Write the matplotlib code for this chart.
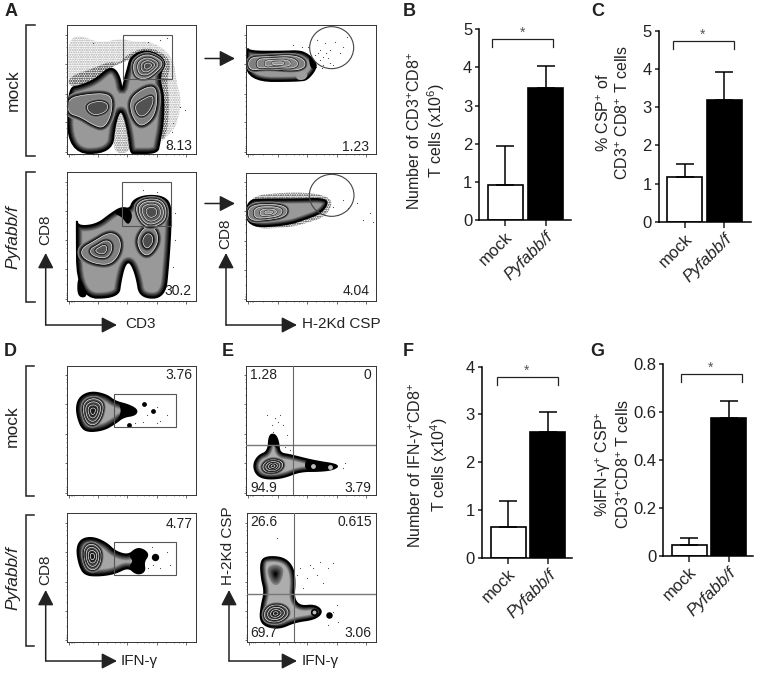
"""
Flow plots and bar charts, CD8 T cell response mock vs Pyfabb/f
"""
import numpy as np
import matplotlib
matplotlib.use("Agg")
import matplotlib.pyplot as plt
from matplotlib.patches import Polygon, Rectangle, Ellipse

plt.rcParams['font.family'] = ['Liberation Sans', 'DejaVu Sans']
plt.rcParams['mathtext.fontset'] = 'custom'
plt.rcParams['mathtext.rm'] = 'Liberation Sans'
plt.rcParams['mathtext.default'] = 'regular'

W, H = 757, 673
INK = '#222222'

# Bar data
groups = ['mock', 'Pyfabb/f']
b_vals = [0.93, 3.45]
b_errs = [1.01, 0.59]
c_vals = [1.17, 3.20]
c_errs = [0.35, 0.73]
f_vals = [0.64, 2.63]
f_errs = [0.54, 0.43]
g_vals = [0.045, 0.575]
g_errs = [0.027, 0.070]
b_ticks = [0, 1, 2, 3, 4, 5]
c_ticks = [0, 1, 2, 3, 4, 5]
f_ticks = [0, 1, 2, 3, 4]
g_ticks = [0, 0.2, 0.4, 0.6, 0.8]
g_ticklabels = ['0', '0.2', '0.4', '0.6', '0.8']

# Flow populations, traced on a 3x scale of the picture
a1_base = [(204, 265), (240, 258), (285, 240), (325, 205), (345, 208), (360, 235), (366, 275), (375, 235),
           (385, 200), (390, 178), (412, 158), (445, 153), (478, 166), (497, 190), (482, 215), (480, 245),
           (491, 290), (489, 370), (478, 430), (472, 459), (405, 459), (392, 459), (385, 400), (372, 345),
           (360, 330), (345, 370), (335, 459), (204, 459)]
a1_left = [(204, 295), (260, 283), (320, 280), (338, 300), (332, 350), (310, 385), (280, 375), (240, 350), (204, 340)]
a1_left_core = [(262, 312), (300, 302), (325, 312), (320, 335), (285, 347), (262, 332)]
a1_right = [(392, 295), (430, 265), (465, 258), (472, 300), (462, 350), (430, 378), (410, 370), (392, 335)]
a1_right_core = [(402, 315), (435, 295), (458, 285), (460, 310), (440, 345), (415, 350)]
a1_top = [(398, 190), (420, 168), (450, 163), (482, 180), (488, 195), (470, 215), (440, 238), (405, 232)]
a2_base = [(740, 142), (750, 155), (850, 155), (900, 153), (925, 165), (945, 185), (948, 205), (925, 235),
           (905, 243), (740, 243)]
a2_core = [(746, 172), (800, 170), (880, 165), (915, 180), (915, 203), (880, 212), (800, 205), (746, 212)]
a2_wedge = [(925, 168), (948, 185), (950, 205), (932, 208)]
a2_light = [(888, 222), (905, 212), (925, 222), (915, 240), (890, 240)]
a3_base = [(230, 650), (232, 680), (290, 675), (335, 640), (365, 622), (390, 628), (400, 600), (440, 586),
           (490, 590), (513, 615), (511, 700), (505, 790), (495, 893), (420, 893), (410, 830), (392, 785),
           (375, 790), (362, 840), (355, 893), (232, 893)]
a3_left = [(245, 745), (280, 725), (330, 695), (362, 715), (360, 760), (330, 795), (280, 790), (245, 770)]
a3_right = [(410, 715), (440, 675), (470, 690), (475, 730), (445, 770), (420, 755)]
a3_top = [(405, 620), (430, 597), (480, 597), (500, 625), (495, 665), (450, 685), (420, 665)]
a3_dark1 = [(340, 640), (365, 622), (390, 628), (398, 650), (385, 678), (365, 650)]
a3_dark2 = [(232, 835), (245, 840), (265, 892), (232, 892)]
a4_base = [(740, 600), (800, 598), (900, 598), (970, 596), (984, 610), (960, 640), (920, 655), (860, 675), (740, 682)]
a4_core = [(745, 615), (830, 612), (865, 625), (855, 650), (800, 660), (745, 662)]
d1_base = [(228, 220), (240, 185), (275, 170), (320, 180), (345, 200), (385, 210), (412, 225), (405, 240),
           (370, 245), (345, 265), (310, 285), (260, 290), (240, 270)]
d1_core = [(248, 225), (255, 198), (285, 188), (312, 205), (305, 245), (285, 272), (260, 265)]
d1_tail = [(355, 202), (385, 210), (412, 225), (405, 240), (370, 245), (345, 265), (365, 232)]
d2_base = [(230, 640), (245, 612), (280, 607), (320, 625), (345, 650), (385, 662), (410, 640), (432, 645),
           (445, 660), (430, 680), (435, 710), (410, 718), (385, 695), (345, 715), (300, 722), (255, 720), (238, 690)]
d2_core = [(250, 650), (262, 628), (285, 628), (305, 650), (300, 690), (280, 708), (258, 695)]
d2_tail = [(385, 662), (410, 640), (432, 645), (445, 660), (430, 680), (435, 710), (410, 718), (385, 695), (400, 678)]
e1_base = [(760, 390), (775, 362), (805, 350), (808, 300), (825, 298), (835, 320), (838, 355), (870, 360),
           (940, 378), (1018, 390), (1000, 403), (960, 408), (900, 408), (850, 428), (800, 432), (770, 420)]
e1_core = [(785, 392), (810, 372), (845, 378), (850, 395), (830, 412), (795, 412)]
e1_spike = [(803, 345), (808, 300), (825, 298), (835, 320), (838, 350), (820, 328)]
e1_tail = [(915, 374), (940, 378), (1018, 390), (1000, 403), (960, 408), (915, 408)]
e2_base = [(782, 680), (800, 665), (850, 668), (878, 695), (885, 740), (880, 790), (900, 815), (945, 810),
           (968, 830), (945, 852), (885, 860), (840, 880), (800, 875), (780, 855), (785, 810), (795, 770), (785, 730)]
e2_core = [(790, 835), (810, 810), (850, 810), (870, 835), (840, 862), (800, 860)]
e2_top = [(797, 700), (825, 685), (855, 700), (840, 750), (815, 750)]

# Stippled events around the populations
a1_sparse = [(205, 205), (205, 120), (240, 105), (300, 130), (360, 115), (400, 125), (460, 125), (520, 170),
             (530, 250), (545, 300), (530, 380), (500, 410), (480, 430), (489, 370), (491, 290), (482, 215),
             (445, 153), (390, 178), (325, 205), (285, 240), (207, 265)]
a1_dense = [(205, 230), (280, 205), (325, 185), (360, 190), (385, 160), (445, 140), (500, 165), (512, 195),
            (500, 240), (508, 300), (502, 400), (484, 425), (489, 370), (491, 290), (482, 215),
            (445, 153), (390, 178), (325, 205), (285, 240), (207, 265)]
a1_gap = [(337, 459), (347, 372), (360, 333), (372, 348), (385, 402), (392, 459)]
a4_stipple = [(742, 590), (840, 578), (930, 578), (985, 590), (998, 612), (975, 650), (925, 668), (860, 684),
              (742, 686)]
a1_events = [(480, 120), (445, 125), (500, 115), (540, 320), (555, 330), (520, 370), (515, 395), (505, 440), (280, 130)]
a2_events = [(960, 150), (975, 130), (990, 150), (1005, 125), (1020, 160), (985, 175), (950, 120), (960, 180),
             (1000, 195), (1040, 110), (1030, 140), (945, 165), (970, 195), (925, 140), (955, 160), (968, 172),
             (978, 160), (990, 190), (948, 200), (965, 205), (880, 135), (905, 140)]
a3_events = [(430, 570), (470, 575), (525, 640), (525, 720), (520, 800), (515, 860)]
a4_events = [(1000, 620), (1030, 600), (1070, 610), (1110, 640), (1120, 665), (1015, 645), (1045, 625), (1090, 660)]
d1_events = [(440, 240), (470, 215), (480, 258), (405, 265), (430, 262), (500, 240), (470, 265)]
d2_events = [(455, 635), (480, 700), (510, 690), (460, 690), (500, 650), (445, 700)]
e1_events = [(825, 250), (815, 270), (850, 270), (800, 240), (840, 240), (820, 290), (1035, 385), (1030, 400),
             (860, 300), (835, 260), (855, 335), (870, 345)]
e2_events = [(900, 700), (930, 690), (960, 680), (1000, 685), (920, 730), (950, 720), (910, 760), (985, 700),
             (1010, 810), (1000, 830), (1015, 860), (985, 870), (940, 700), (890, 720), (830, 610), (970, 745)]

# Flow dots drawn solid, and the pale holes in the tails
d1_blobs = [(432, 208), (460, 229), (386, 270)]
d2_blobs = [(466, 665)]
e1_holes = [(940, 393), (990, 397)]
e2_blobs = [(986, 840)]
e2_holes = [(942, 830)]

# Log tick positions of the flow axes, fraction of the axis
tick_major = [0.015, 0.245, 0.47, 0.70, 0.925]
tick_minor = [0.03, 0.045, 0.06, 0.13, 0.20, 0.31, 0.37, 0.41, 0.44, 0.54, 0.60, 0.64, 0.67, 0.77, 0.83, 0.87, 0.90]


def px_axes(l, t, r, b, **kw):
    return fig.add_axes([l / W, 1 - b / H, (r - l) / W, (b - t) / H], **kw)


def smooth(pts, n=3):
    p = np.array(pts, float)
    for _ in range(n):
        q = np.roll(p, -1, axis=0)
        p = np.column_stack([0.75 * p + 0.25 * q, 0.25 * p + 0.75 * q]).reshape(-1, 2)
    return p


def strokes(ax, p, band, light, clip):
    for i in range(8):
        grey = light * (1 - i / 7) ** 1.2
        s = Polygon(p, closed=True, fill=False, ec=str(grey), lw=2 * band * (1 - i / 8))
        ax.add_patch(s)
        s.set_clip_path(clip)


def base_shape(ax, pts, light=0.6, band=4.5, outer=1.4):
    p = smooth(pts)
    patch = Polygon(p, closed=True, fc=str(light), ec='none')
    ax.add_patch(patch)
    strokes(ax, p, band, light, patch)
    ax.add_patch(Polygon(p, closed=True, fill=False, ec='black', lw=outer))
    return patch


def rings(ax, clip, pts, scales, light=0.5, band=3.0, core=0.3):
    # dark halo outside each contour, a white line on it, darker towards the middle
    p = np.array(pts, float)
    c = p.mean(axis=0)
    n = len(scales)
    for k, s in enumerate(scales):
        q = smooth(c + s * (p - c))
        fill = light + (core - light) * (k / max(n - 1, 1))
        strokes(ax, q, band, 0.6 if k == 0 else fill + 0.1, clip)
        patch = Polygon(q, closed=True, fc=str(fill), ec='#eeeeee', lw=0.5)
        ax.add_patch(patch)
        patch.set_clip_path(clip)
        band = max(band * 0.7, 1.0)


def glow(ax, pts, dark=0.0, steps=8, start=0.5):
    # soft dark centre, no contour line
    p = np.array(pts, float)
    c = p.mean(axis=0)
    for i in range(steps):
        s = 1 - i / steps
        solid(ax, c + s * (p - c), str(start + (dark - start) * i / (steps - 1)))


def flow_axes(origin, box):
    ox, oy = origin
    x0, y0, x1, y1 = box
    ax = px_axes(ox + x0 / 3, oy + y0 / 3, ox + x1 / 3, oy + y1 / 3)
    ax.set_xlim(x0, x1)
    ax.set_ylim(y1, y0)
    for s in ax.spines.values():
        s.set_linewidth(0.7)
        s.set_color('#333333')
    ax.set_xticks([x0 + f * (x1 - x0) for f in tick_major])
    ax.set_xticks([x0 + f * (x1 - x0) for f in tick_minor], minor=True)
    ax.set_yticks([y1 - f * (y1 - y0) for f in tick_major])
    ax.set_yticks([y1 - f * (y1 - y0) for f in tick_minor], minor=True)
    ax.tick_params(which='major', length=1.8, width=0.5, labelbottom=False, labelleft=False, color='#333333')
    ax.tick_params(which='minor', length=1.0, width=0.4, color='#333333')
    return ax


def stipple(ax, pts, colour='#444444'):
    ax.add_patch(Polygon(smooth(pts), closed=True, fill=False, ec=colour, hatch='.......', lw=0))


def solid(ax, pts, colour='black'):
    ax.add_patch(Polygon(smooth(pts), closed=True, fc=colour, ec='none'))


def events(ax, pts):
    x, y = zip(*pts)
    ax.scatter(x, y, s=0.7, c='#444444', lw=0)


def gate(ax, box):
    x0, y0, x1, y1 = box
    ax.add_patch(Rectangle((x0, y0), x1 - x0, y1 - y0, fill=False, ec='#555555', lw=0.8, zorder=8))


def circle_gate(ax, cx, cy, rx, ry):
    ax.add_patch(Ellipse((cx, cy), 2 * rx, 2 * ry, fill=False, ec='#444444', lw=0.8, zorder=8))


def label(ax, x, y, s, ha='right'):
    ax.text(x, y, s, fontsize=10, ha=ha, va='center', color=INK, zorder=9)


def bar_panel(l, t, r, b, centres, vals, errs, ymax, ticks, ticklabels, ylabel, lab_xy):
    ax = px_axes(l, t, r, b)
    step = centres[1] - centres[0]
    ax.set_xlim((l - centres[0]) / step, (r - centres[0]) / step)
    ax.set_ylim(0, ymax)
    ax.bar([0, 1], vals, width=35 / step, color=['white', 'black'], edgecolor='black', linewidth=1.2)
    ax.errorbar([0, 1], vals, yerr=[[0, 0], errs], fmt='none', ecolor='black', elinewidth=1.1,
                capsize=6.5, capthick=1.1)
    ax.spines['top'].set_visible(False)
    ax.spines['right'].set_visible(False)
    ax.spines['left'].set_linewidth(1.1)
    ax.spines['bottom'].set_linewidth(1.1)
    ax.set_yticks(ticks)
    ax.set_yticklabels(ticklabels)
    ax.set_xticks([0, 1])
    ax.set_xticklabels(groups, rotation=45, ha='right', rotation_mode='anchor')
    ax.get_xticklabels()[1].set_style('italic')
    ax.tick_params(axis='y', length=3, width=1.1, pad=2, labelsize=12, colors=INK)
    ax.tick_params(axis='x', length=4.5, width=1.1, pad=2, labelsize=12, colors=INK)
    ax.patch.set_alpha(0)
    over.text(lab_xy[0], lab_xy[1], ylabel, rotation=90, ha='center', va='center', fontsize=11.5,
              color=INK, linespacing=1.15, multialignment='center')
    return ax


fig = plt.figure(figsize=(W / 100, H / 100), dpi=100)
over = fig.add_axes([0, 0, 1, 1], zorder=20)
over.set_xlim(0, W)
over.set_ylim(H, 0)
over.axis('off')
over.patch.set_alpha(0)

# Panel A
ax = flow_axes((0, 0), (200, 76, 588, 462))
stipple(ax, a1_sparse, '#aaaaaa')
stipple(ax, a1_dense, '#333333')
events(ax, a1_events)
base = base_shape(ax, a1_base)
stipple(ax, a1_gap, '#777777')
rings(ax, base, a1_left, [1])
rings(ax, base, a1_left_core, [1], light=0.3, band=2)
rings(ax, base, a1_right, [1])
rings(ax, base, a1_right_core, [1], light=0.32, band=2)
rings(ax, base, a1_top, [1, 0.72, 0.48, 0.26], band=2)
gate(ax, (368, 106, 517, 237))
label(ax, 576, 437, '8.13')

ax = flow_axes((0, 0), (737, 76, 1127, 462))
events(ax, a2_events)
base = base_shape(ax, a2_base, band=3.5)
solid(ax, a2_light, '0.62')
rings(ax, base, a2_core, [1, 0.72, 0.45, 0.2], band=2, core=0.55)
solid(ax, a2_wedge)
circle_gate(ax, 995, 143, 66, 63)
label(ax, 1108, 440, '1.23')

ax = flow_axes((0, 0), (200, 516, 588, 902))
events(ax, a3_events)
base = base_shape(ax, a3_base)
solid(ax, a3_dark1)
solid(ax, a3_dark2)
rings(ax, base, a3_left, [1, 0.55, 0.28], core=0.35)
rings(ax, base, a3_right, [1, 0.5], core=0.3)
rings(ax, base, a3_top, [1, 0.82, 0.62, 0.36], band=2, core=0.3)
gate(ax, (365, 547, 513, 678))
label(ax, 576, 872, '30.2')

ax = flow_axes((0, 0), (737, 518, 1127, 904))
stipple(ax, a4_stipple, '#333333')
events(ax, a4_events)
base = base_shape(ax, a4_base, band=3.5)
rings(ax, base, a4_core, [1, 0.72, 0.42, 0.2], band=2, core=0.55)
circle_gate(ax, 995, 586, 67, 63)
label(ax, 1108, 872, '4.04')

# Panel D
ax = flow_axes((0, 335), (200, 92, 588, 480))
events(ax, d1_events)
base = base_shape(ax, d1_base, band=5, light=0.65)
rings(ax, base, d1_core, [1, 0.75, 0.5, 0.25], band=2, core=0.1, light=0.35)
solid(ax, d1_tail)
ax.scatter(*zip(*d1_blobs), s=12, c='black', lw=0)
gate(ax, (342, 178, 527, 276))
label(ax, 578, 120, '3.76')

ax = flow_axes((0, 335), (200, 535, 588, 922))
events(ax, d2_events)
base = base_shape(ax, d2_base, band=5, light=0.65)
rings(ax, base, d2_core, [1, 0.75, 0.5, 0.25], band=2, core=0.1, light=0.35)
solid(ax, d2_tail)
ax.scatter(*zip(*d2_blobs), s=28, c='black', lw=0)
gate(ax, (342, 622, 527, 720))
label(ax, 578, 566, '4.77')

# Panel E
ax = flow_axes((0, 335), (737, 92, 1127, 480))
events(ax, e1_events)
base = base_shape(ax, e1_base, band=4, light=0.68)
rings(ax, base, e1_core, [1, 0.72, 0.45, 0.2], band=2, core=0.1, light=0.35)
solid(ax, e1_spike)
solid(ax, e1_tail)
ax.scatter(*zip(*e1_holes), s=12, c='0.75', lw=0)
ax.axhline(331, color='#777777', lw=1.0, zorder=8)
ax.axvline(880, color='#666666', lw=0.8, zorder=8)
label(ax, 750, 120, '1.28', ha='left')
label(ax, 1115, 120, '0')
label(ax, 750, 460, '94.9', ha='left')
label(ax, 1115, 460, '3.79')

ax = flow_axes((0, 335), (741, 535, 1127, 922))
events(ax, e2_events)
base = base_shape(ax, e2_base, band=4, light=0.68)
rings(ax, base, e2_core, [1, 0.72, 0.45, 0.2], band=2, core=0.1, light=0.35)
glow(ax, e2_top)
ax.scatter(*zip(*e2_holes), s=16, c='0.75', edgecolors='black', lw=1.2, zorder=3)
ax.scatter(*zip(*e2_blobs), s=22, c='black', lw=0)
ax.axhline(776, color='#777777', lw=1.0, zorder=8)
ax.axvline(883, color='#666666', lw=0.8, zorder=8)
label(ax, 750, 562, '26.6', ha='left')
label(ax, 1115, 562, '0.615')
label(ax, 750, 895, '69.7', ha='left')
label(ax, 1115, 895, '3.06')

# Bars
bar_panel(479.3, 29.3, 571, 220, [505.2, 545.5], b_vals, b_errs, 5, b_ticks, b_ticks,
          'Number of CD3$^{+}$CD8$^{+}$\nT cells (x10$^{6}$)', (426.5, 131))
bar_panel(658.7, 30.7, 751, 222, [684.8, 724.3], c_vals, c_errs, 5, c_ticks, c_ticks,
          '% CSP$^{+}$ of\nCD3$^{+}$ CD8$^{+}$ T cells', (613, 113))
bar_panel(481.7, 366.7, 571.7, 557.7, [508, 547.8], f_vals, f_errs, 4, f_ticks, f_ticks,
          'Number of IFN-γ$^{+}$CD8$^{+}$\nT cells (x10$^{4}$)', (428, 465))
bar_panel(663.3, 364.3, 752.7, 555.7, [689.2, 728.5], g_vals, g_errs, 0.8, g_ticks, g_ticklabels,
          '%IFN-γ$^{+}$ CSP$^{+}$\nCD3$^{+}$CD8$^{+}$ T cells', (613, 464))

# Significance brackets
for x0, x1, top, star_y in [(491.7, 552.7, 39.3, 33), (672.5, 733.5, 41, 35),
                            (496.5, 557.5, 377, 371), (680.5, 741.5, 374, 368)]:
    over.plot([x0, x0, x1, x1], [top + 8, top, top, top + 8], color=INK, lw=0.9, solid_joinstyle='miter')
    over.text((x0 + x1) / 2, star_y, '*', ha='center', va='center', fontsize=10, color='#555555')

# Group brackets
for t, b in [(25, 155.5), (172, 302), (365.7, 495.7), (515, 645.7)]:
    x0 = 35 if t < 300 else 34.3
    over.plot([x0, 26, 26, x0], [t, t, b, b], color=INK, lw=1.1, solid_joinstyle='miter')


def arrow(x0, y0, x1, y1):
    over.annotate('', xy=(x1, y1), xytext=(x0, y0),
                  arrowprops=dict(arrowstyle='-|>,head_length=0.62,head_width=0.32', color=INK, lw=1.1,
                                  shrinkA=0, shrinkB=0, mutation_scale=15))


# Axis arrows
for x, y, top, right in [(45.7, 325, 253, 117), (226, 325, 253, 297), (45.7, 661, 590, 117), (229, 661, 590, 297)]:
    arrow(x, y, x, top)
    arrow(x, y, right, y)
arrow(205, 58.5, 235, 58.5)
arrow(205, 203.5, 235, 203.5)

# Texts
side = dict(rotation=90, ha='center', va='center', fontsize=12.5, color=INK)
over.text(13, 90, 'mock', **side)
over.text(12.5, 237, 'Pyfabb/f', style='italic', **side)
over.text(12.5, 426, 'mock', **side)
over.text(12.5, 578, 'Pyfabb/f', style='italic', **side)
side['fontsize'] = 11
over.text(45, 230, 'CD8', **side)
over.text(225.5, 234, 'CD8', **side)
over.text(45, 570, 'CD8', **side)
over.text(228.5, 546, 'H-2Kd CSP', **side)
ax_text = dict(ha='center', va='center', fontsize=11, color=INK)
over.text(140, 324.5, 'CD3', **ax_text)
over.text(341.5, 324.5, 'H-2Kd CSP', **ax_text)
over.text(139, 661, 'IFN-γ', **ax_text)
over.text(320, 661, 'IFN-γ', **ax_text)

for s, x, y in [('A', 11, 12), ('B', 409, 12), ('C', 598, 12), ('D', 10, 352), ('E', 228, 352),
                ('F', 408, 351), ('G', 597, 351)]:
    over.text(x, y, s, fontsize=13, fontweight='bold', ha='center', va='center', color=INK)

fig.savefig('out.png', dpi=100)
